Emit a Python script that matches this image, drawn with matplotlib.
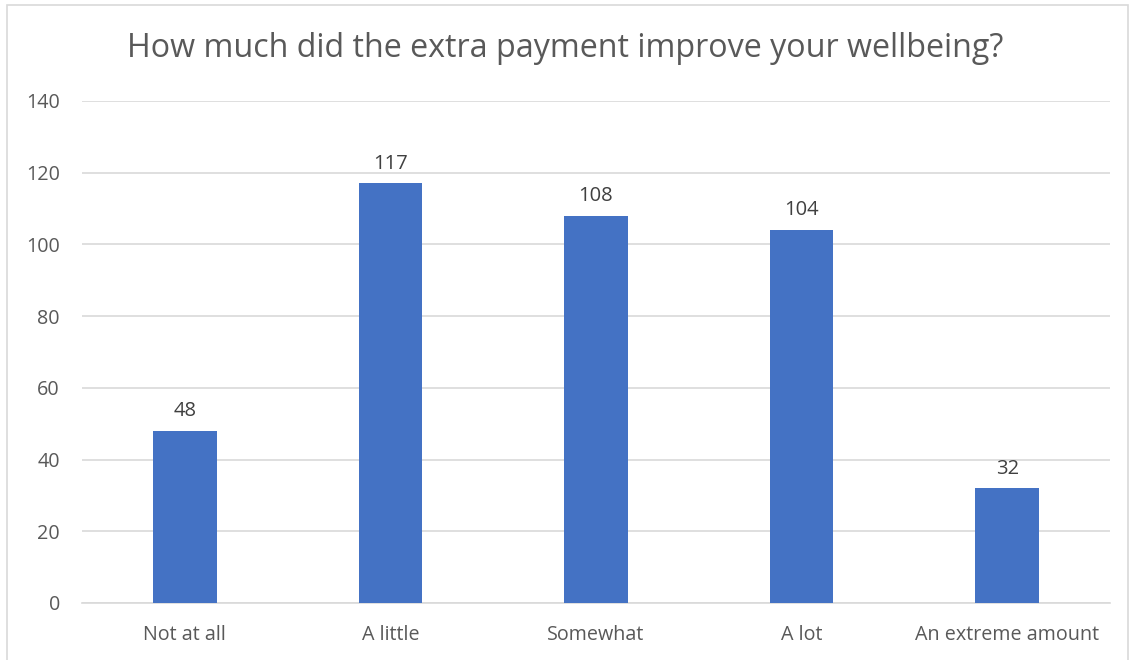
import matplotlib.pyplot as plt
from matplotlib.patches import Rectangle

# Survey responses
categories = ["Not at all", "A little", "Somewhat", "A lot", "An extreme amount"]
counts = [48, 117, 108, 104, 32]
y_ticks = [0, 20, 40, 60, 80, 100, 120, 140]

plt.rcParams['font.family'] = ['Open Sans', 'DejaVu Sans']
text_color = '#595959'

fig = plt.figure(figsize=(11.31, 6.6), dpi=100)
ax = fig.add_axes([0.0725, 0.0864, 0.9089, 0.7606])

x = range(len(categories))
bars = ax.bar(x, counts, width=0.31, color='#4472C4', zorder=3)

for bar, val in zip(bars, counts):
    ax.annotate(str(val), (bar.get_x() + bar.get_width() / 2, val),
                xytext=(0, 7), textcoords='offset points',
                ha='center', va='bottom', fontsize=14.5, color='#404040')

ax.set_xlim(-0.5, len(categories) - 0.5)
ax.set_ylim(0, 140)
ax.set_yticks(y_ticks)
ax.set_xticks(list(x))
ax.set_xticklabels(categories)
ax.tick_params(axis='both', length=0, labelsize=14.2, colors=text_color)
ax.tick_params(axis='y', pad=16)
ax.tick_params(axis='x', pad=16)
ax.yaxis.grid(True, color='#d9d9d9', linewidth=1.2, zorder=0)
for side in ['top', 'right', 'left']:
    ax.spines[side].set_visible(False)
ax.spines['bottom'].set_color('#d9d9d9')
ax.spines['bottom'].set_linewidth(1.2)

fig.text(0.5, 0.927, "How much did the extra payment improve your wellbeing?",
         ha='center', va='center', fontsize=23.2, color=text_color)

# light outline around the chart area
fig.patches.append(Rectangle((7 / 1131, -0.01), 1121 / 1131, 1 - 5 / 660 + 0.01,
                             transform=fig.transFigure, fill=False,
                             edgecolor='#d9d9d9', linewidth=1.2))

fig.savefig('out.png', dpi=100)
